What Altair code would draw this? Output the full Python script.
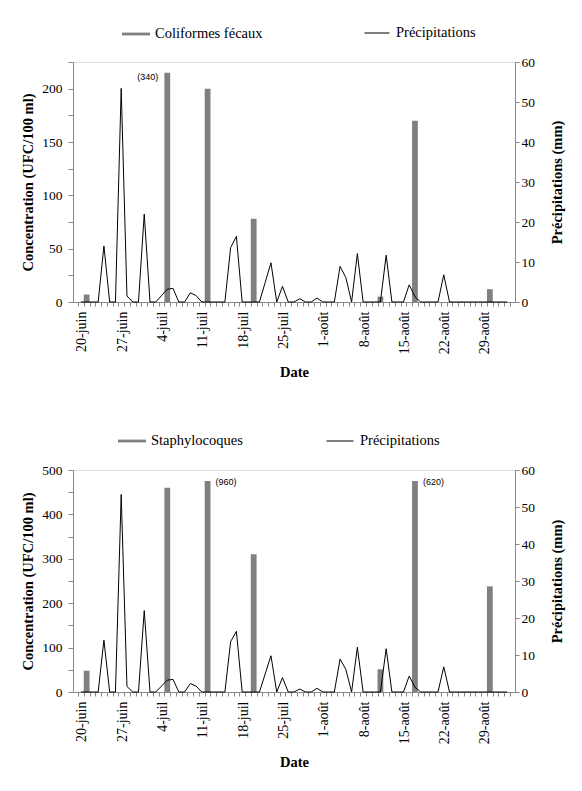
import altair as alt
import pandas as pd

MONTHS = {"juin": 6, "juil": 7, "août": 8, "sept": 9}

# daily precipitation (mm), one value per day starting 19-juin (75 days)
precip = [
    0, 0, 0, 0, 14, 0, 0, 53.4, 1.5, 0,
    0, 22, 0, 0, 1.6, 3.2, 3.4, 0, 0, 2.3,
    1.6, 0, 0, 0, 0, 0, 13.6, 16.4, 0, 0,
    0, 0, 4.9, 9.8, 0, 3.9, 0, 0, 0.8, 0,
    0, 1.0, 0, 0, 0, 8.9, 6.1, 0, 12.1, 0,
    0, 0, 0, 11.7, 0, 0, 0, 4.3, 1.3, 0,
    0, 0, 0, 6.8, 0, 0, 0, 0, 0, 0,
    0, 0, 0, 0, 0,
]
assert len(precip) == 75

tick_labels = ["20-juin", "27-juin", "4-juil", "11-juil", "18-juil", "25-juil",
               "1-août", "8-août", "15-août", "22-août", "29-août"]

bar_dates = ["20-juin", "4-juil", "11-juil", "19-juil", "10-août", "16-août", "29-août"]
coliformes = [7, 340, 200, 78, 5, 170, 12]
staphylocoques = [48, 460, 960, 310, 51, 620, 238]


def day_index(label):
    d, m = label.split("-")
    return (pd.Timestamp(2000, MONTHS[m], int(d)) - pd.Timestamp(2000, 6, 19)).days


N_DAYS = len(precip)
SERIF = "Liberation Serif"

expr = "''"
for lab in reversed(tick_labels):
    expr = "datum.value == %d ? '%s' : (%s)" % (day_index(lab), lab, expr)

x_axis = alt.Axis(
    values=list(range(0, N_DAYS + 1)), labelExpr=expr, labelAngle=270,
    labelAlign="right", labelBaseline="middle", labelPadding=5, labelOffset=-2, tickSize=4,
    labelFont=SERIF, labelFontSize=14, title="Date", titleFont=SERIF,
    titleFontSize=14.5, titleFontWeight="bold", titlePadding=12, labelOverlap=False,
    grid=False,
)
x_scale = alt.Scale(domain=[0, N_DAYS], nice=False, zero=False)

p_df = pd.DataFrame({"idx": list(range(N_DAYS)), "precip": precip, "serie": "Précipitations"})
p_df["x"] = p_df["idx"] + 0.5


def panel(values, name, y_max, tick_step, label_step, cap, height,
          leg_bar_x, leg_line_x, leg_y, line_len, ann_align, ann_dx, ann_baseline, ann_dy):
    b = pd.DataFrame({"idx": [day_index(d) for d in bar_dates], "value": values, "serie": name})
    b["x"] = b["idx"] + 0.5
    b["shown"] = b["value"].clip(upper=cap)
    b["note"] = ["(%d)" % v if v > cap else "" for v in values]
    y_scale = alt.Scale(domain=[0, y_max], nice=False)
    left_axis = alt.Axis(
        values=list(range(0, y_max + 1, tick_step)),
        labelExpr="datum.value %% %d == 0 ? datum.label : ''" % label_step,
        tickSize=5, labelPadding=6, labelFont=SERIF, labelFontSize=13.5,
        title="Concentration (UFC/100 ml)", titleFont=SERIF, titleFontSize=14.5,
        titleFontWeight="bold", titlePadding=6, titleAngle=270, grid=False,
    )
    bars = alt.Chart(b).mark_bar(size=5.8).encode(
        x=alt.X("x:Q", scale=x_scale, axis=x_axis),
        y=alt.Y("shown:Q", scale=y_scale, axis=left_axis),
        fill=alt.Fill("serie:N", scale=alt.Scale(range=["#808080"]),
                      legend=alt.Legend(title=None, orient="none", legendX=leg_bar_x,
                                        legendY=leg_y, symbolType="M-1,-0.1L1,-0.1L1,0.1L-1,0.1Z",
                                        symbolSize=784, symbolStrokeWidth=0, labelFont=SERIF,
                                        labelFontSize=14.5, labelOffset=5, labelColor="black")),
    )
    notes = alt.Chart(b).transform_filter("datum.note != ''").mark_text(
        align=ann_align, dx=ann_dx, baseline=ann_baseline, dy=ann_dy,
        font="Liberation Sans", fontSize=9, color="black",
    ).encode(
        x=alt.X("x:Q", scale=x_scale, axis=x_axis),
        y=alt.Y("shown:Q", scale=y_scale, axis=None),
        text="note:N",
    )
    line = alt.Chart(p_df).mark_line(color="black", strokeWidth=1, interpolate="linear").encode(
        x=alt.X("x:Q", scale=x_scale, axis=x_axis),
        y=alt.Y("precip:Q", scale=alt.Scale(domain=[0, 60], nice=False),
                axis=alt.Axis(orient="right", values=list(range(0, 61, 10)), tickSize=4,
                              labelPadding=2, labelFont=SERIF, labelFontSize=13.5,
                              title="Précipitations (mm)", titleFont=SERIF, titleFontSize=14.5,
                              titleFontWeight="bold", titleAngle=270, titleBaseline="top",
                              titlePadding=16, grid=False)),
        stroke=alt.Stroke("serie:N", scale=alt.Scale(range=["#000000"]),
                          legend=alt.Legend(title=None, orient="none", legendX=leg_line_x,
                                            legendY=leg_y, symbolType="stroke",
                                            symbolSize=line_len * line_len,
                                            symbolStrokeWidth=1, labelFont=SERIF,
                                            labelFontSize=14.5, labelOffset=6, labelColor="black")),
    )
    return alt.layer(bars, notes, line).resolve_scale(
        y="independent", fill="independent", stroke="independent"
    ).properties(width=442, height=height)


top = panel(coliformes, "Coliformes fécaux", 225, 25, 50, 215, 240,
            49, 291, -42, 25, "right", -9, "top", 0)
bottom = panel(staphylocoques, "Staphylocoques", 500, 50, 100, 475, 222,
               45, 253, -43, 27, "left", 8, "middle", 1)

chart = alt.vconcat(top, bottom, spacing=46).properties(
    padding={"left": 12, "top": 11, "right": 5, "bottom": 5}
).configure_view(stroke="black", strokeWidth=1).configure_axis(
    domainColor="black", tickColor="black", labelColor="black", titleColor="black", grid=False
).configure(background="white")

chart.save("out.html", embed_options={"renderer": "svg", "actions": False})
